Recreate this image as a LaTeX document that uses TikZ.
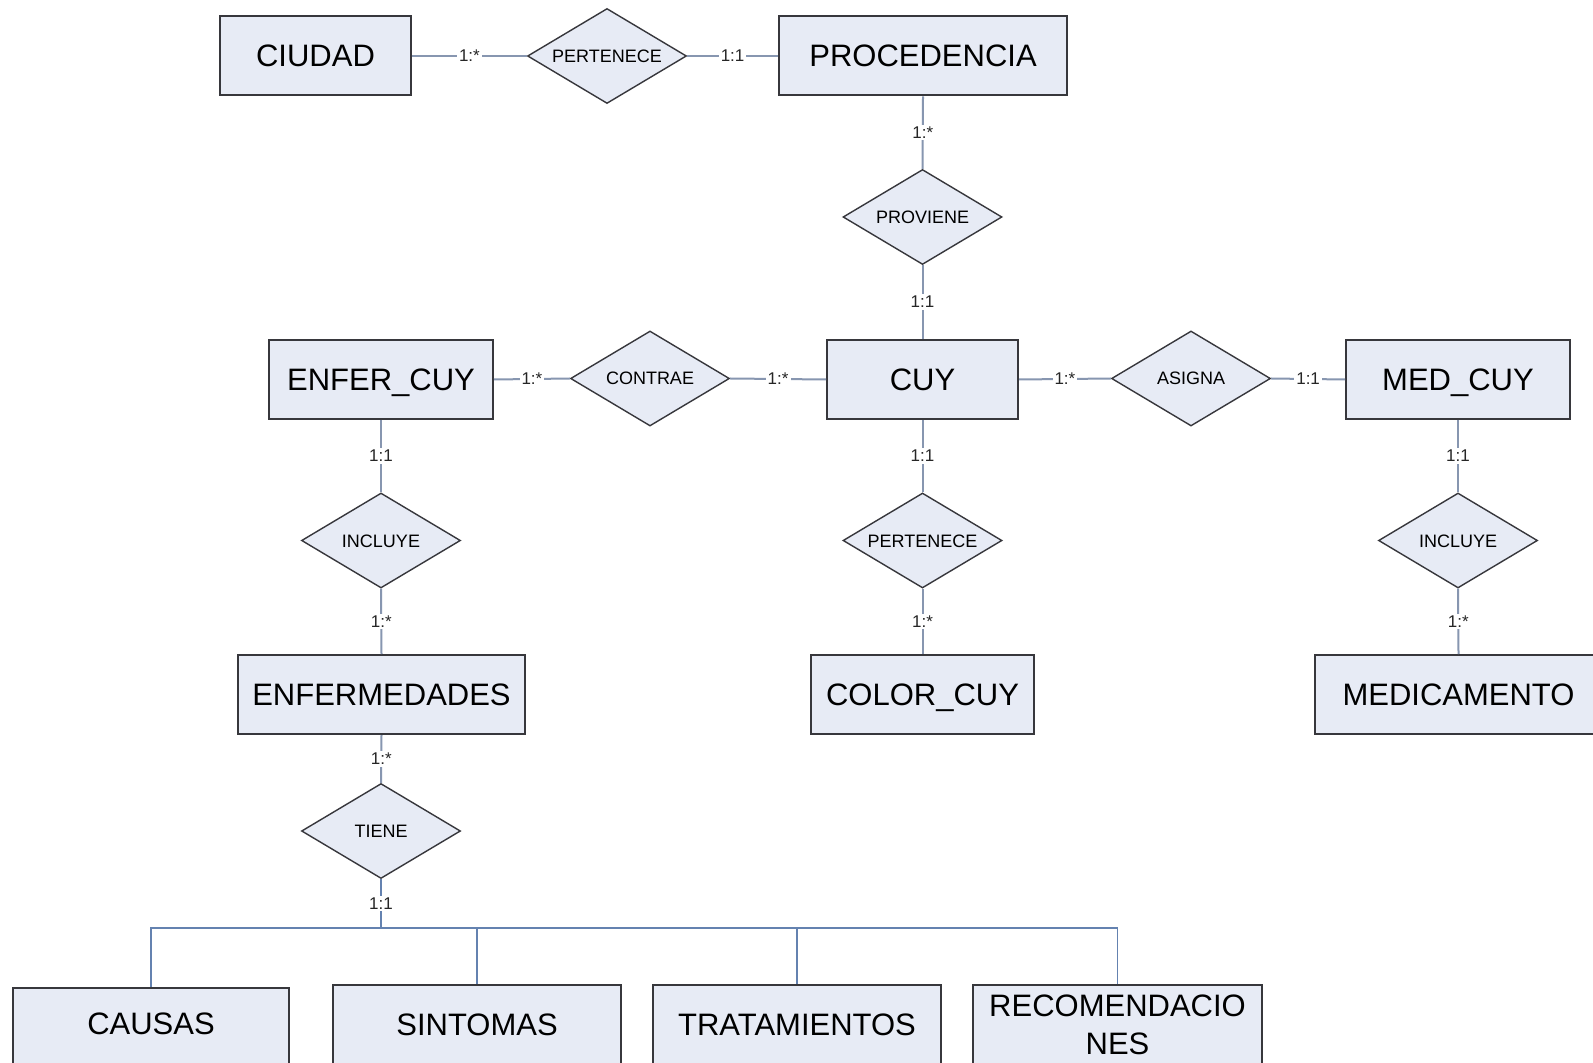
\documentclass[tikz,border=0pt]{standalone}
\usepackage{fontspec}
\setmainfont{Liberation Sans}
\usetikzlibrary{shapes.geometric}
\definecolor{fillc}{RGB}{231,235,245}
\definecolor{bordc}{RGB}{55,55,60}
\definecolor{connc}{RGB}{135,150,176}
\definecolor{busc}{RGB}{100,130,176}
\tikzset{
  ent/.style={draw=bordc, fill=fillc, line width=1pt, minimum height=39.5pt, inner sep=0pt,
    align=center, font=\fontsize{15.5}{19}\selectfont},
  entc/.style={ent, text height=11pt, text depth=0pt},
  rel/.style={diamond, draw=bordc, fill=fillc, line width=0.7pt, minimum width=79.5pt,
    minimum height=47.5pt, inner sep=0pt, aspect=1.7, font=\fontsize{9}{11}\selectfont,
    text height=6.5pt, text depth=0pt},
  lab/.style={fill=white, inner sep=1pt, text=black!85, font=\fontsize{8.5}{10}\selectfont},
  conn/.style={draw=connc, line width=1pt},
  busline/.style={draw=busc, line width=0.9pt}
}
\begin{document}
\begin{tikzpicture}[x=0.5pt,y=-0.5pt]
\useasboundingbox (0,0) rectangle (1593,1063);
\clip (0,0) rectangle (1593,1063);
\fill[white] (0,0) rectangle (1593,1063);
% entities
\node[entc, minimum width=95.5pt] (ciudad) at (315.5,56) {CIUDAD};
\node[entc, minimum width=144pt] (proc) at (923,56) {PROCEDENCIA};
\node[entc, minimum width=95.5pt] (cuy) at (922.5,379.5) {CUY};
\node[entc, minimum width=112pt] (enfcuy) at (381,379.5) {ENFER\_CUY};
\node[entc, minimum width=112pt] (medcuy) at (1458,379.5) {MED\_CUY};
\node[entc, minimum width=143.5pt] (enferm) at (381.5,694.5) {ENFERMEDADES};
\node[entc, minimum width=111.5pt] (color) at (922.5,694.5) {COLOR\_CUY};
\node[entc, minimum width=143.5pt] (medic) at (1458.5,694.5) {MEDICAMENTO};
\node[entc, text depth=4.5pt, minimum width=138pt] (causas) at (151,1027.5) {CAUSAS};
\node[entc, minimum width=144pt] (sint) at (477,1024.5) {SINTOMAS};
\node[entc, minimum width=144pt] (trat) at (797,1024.5) {TRATAMIENTOS};
\node[ent, minimum width=144.5pt] (recom) at (1117.5,1024.5) {RECOMENDACIO\\NES};
% relationships
\node[rel] (pert1) at (607,56) {PERTENECE};
\node[rel] (prov) at (922.5,217) {PROVIENE};
\node[rel] (contrae) at (650,378.5) {CONTRAE};
\node[rel] (asigna) at (1191,378.5) {ASIGNA};
\node[rel] (incl1) at (381,540.5) {INCLUYE};
\node[rel] (pert2) at (922.5,540.5) {PERTENECE};
\node[rel] (incl2) at (1458,540.5) {INCLUYE};
\node[rel] (tiene) at (381,831) {TIENE};
% connectors
\draw[conn] (ciudad.east) -- node[lab]{1:*} (pert1.west);
\draw[conn] (pert1.east) -- node[lab]{1:1} (proc.west);
\draw[conn] (proc.south) -- node[lab]{1:*} (prov.north);
\draw[conn] (prov.south) -- node[lab]{1:1} (cuy.north);
\draw[conn] (enfcuy.east) -- node[lab]{1:*} (contrae.west);
\draw[conn] (contrae.east) -- node[lab]{1:*} (cuy.west);
\draw[conn] (cuy.east) -- node[lab]{1:*} (asigna.west);
\draw[conn] (asigna.east) -- node[lab]{1:1} (medcuy.west);
\draw[conn] (enfcuy.south) -- node[lab]{1:1} (incl1.north);
\draw[conn] (incl1.south) -- node[lab]{1:*} (enferm.north);
\draw[conn] (cuy.south) -- node[lab]{1:1} (pert2.north);
\draw[conn] (pert2.south) -- node[lab]{1:*} (color.north);
\draw[conn] (medcuy.south) -- node[lab]{1:1} (incl2.north);
\draw[conn] (incl2.south) -- node[lab]{1:*} (medic.north);
\draw[conn] (enferm.south) -- node[lab]{1:*} (tiene.north);
% bus
\coordinate (bus) at (381,928);
\draw[busline, line width=1.4pt] (tiene.south) -- node[lab]{1:1} (bus);
\draw[busline] (causas.north) |- (bus);
\draw[busline] (recom.north) |- (bus);
\draw[busline] (sint.north) -- (sint.north |- bus);
\draw[busline] (trat.north) -- (trat.north |- bus);
\end{tikzpicture}
\end{document}
